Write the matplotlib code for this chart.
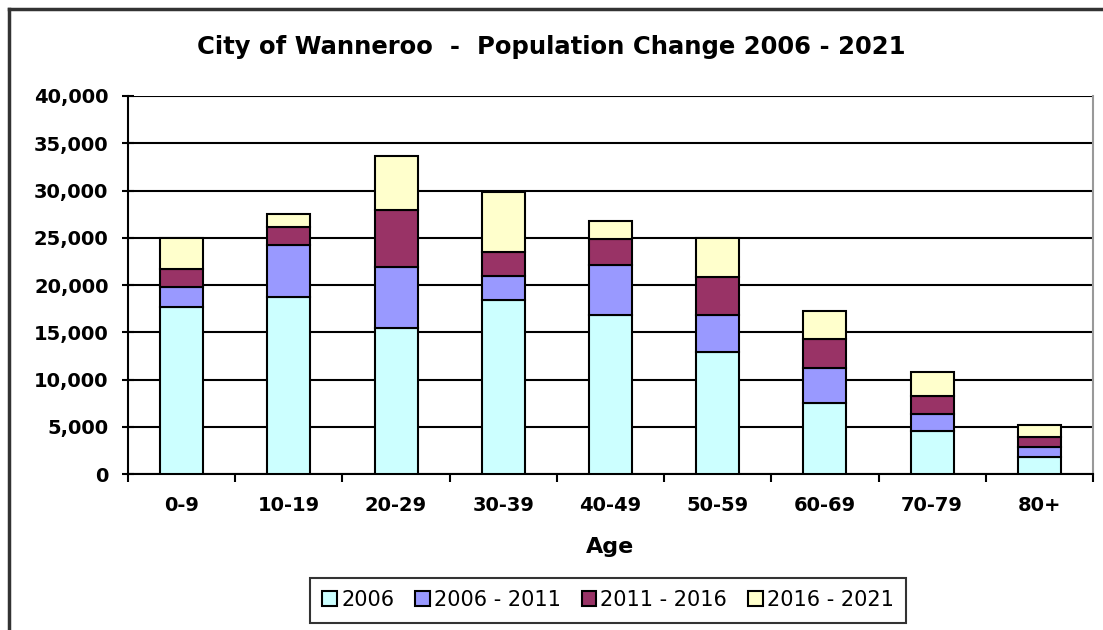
import numpy as np
import matplotlib
matplotlib.use('Agg')
import matplotlib.pyplot as plt
from matplotlib.lines import Line2D
from matplotlib.ticker import FuncFormatter, MultipleLocator

# wide sans to match the stretched Arial look of the original
plt.rcParams['font.family'] = ['DejaVu Sans']

ages = ['0-9', '10-19', '20-29', '30-39', '40-49', '50-59', '60-69', '70-79', '80+']
pop_2006 = [17700, 18700, 15400, 18400, 16800, 12900, 7500, 4500, 1800]
chg_2006_2011 = [2100, 5500, 6500, 2600, 5300, 3900, 3700, 1850, 1100]
chg_2011_2016 = [1900, 1900, 6000, 2500, 2800, 4000, 3100, 1900, 1000]
chg_2016_2021 = [3300, 1400, 5800, 6300, 1900, 4200, 3000, 2550, 1300]

series = [pop_2006, chg_2006_2011, chg_2011_2016, chg_2016_2021]
labels = ['2006', '2006 - 2011', '2011 - 2016', '2016 - 2021']
colors = ['#CCFFFF', '#9999FF', '#993366', '#FFFFCC']

fig = plt.figure(figsize=(11.03, 6.30), dpi=100)
ax = fig.add_axes([128/1103, 156/630, (1093-128)/1103, (474-96)/630])

x = np.arange(len(ages))
bottom = np.zeros(len(ages))
for vals, lab, col in zip(series, labels, colors):
    ax.bar(x, vals, 0.4, bottom=bottom, color=col, edgecolor='black',
           linewidth=1.5, label=lab, zorder=3)
    bottom += np.array(vals)

ax.set_xlim(-0.5, len(ages) - 0.5)
ax.set_ylim(0, 40000)
ax.yaxis.set_major_locator(MultipleLocator(5000))
ax.yaxis.set_major_formatter(FuncFormatter(lambda v, p: '{:,.0f}'.format(v)))
ax.grid(axis='y', color='black', linewidth=1.5, zorder=0)

ax.set_xticks(x)
ax.set_xticklabels(ages)
ax.set_xticks(np.arange(-0.5, len(ages)), minor=True)
ax.tick_params(axis='x', which='major', length=0, pad=16, labelsize=14)
ax.tick_params(axis='x', which='minor', length=6, width=1.5, direction='out')
ax.tick_params(axis='y', length=8, width=1.5, direction='inout', pad=10, labelsize=14)
for t in ax.get_xticklabels() + ax.get_yticklabels():
    t.set_fontweight('bold')

ax.spines['left'].set_linewidth(1.5)
ax.spines['bottom'].set_linewidth(1.5)
ax.spines['top'].set_visible(False)
ax.spines['right'].set_color('#999999')
ax.spines['right'].set_linewidth(1.5)

ax.set_xlabel('Age', fontsize=16, fontweight='bold', labelpad=16)
fig.suptitle('City of Wanneroo  -  Population Change 2006 - 2021',
             fontsize=17.5, fontweight='bold', y=1 - 47/630, va='center')

leg = fig.legend(loc='center', bbox_to_anchor=(608/1103, 1 - 600/630), ncol=4,
                 fontsize=15, frameon=True, fancybox=False, edgecolor='black',
                 handlelength=0.7, handleheight=0.7, handletextpad=0.2,
                 columnspacing=1.0, borderpad=0.6)
leg.get_frame().set_linewidth(1.5)

# outer chart border (left and top visible)
fig.add_artist(Line2D([9/1103, 9/1103], [0, 1 - 9/630], transform=fig.transFigure,
                      color='#333333', linewidth=2.5))
fig.add_artist(Line2D([9/1103, 1], [1 - 9/630, 1 - 9/630], transform=fig.transFigure,
                      color='#333333', linewidth=2.5))

fig.savefig('out.png', dpi=100)
